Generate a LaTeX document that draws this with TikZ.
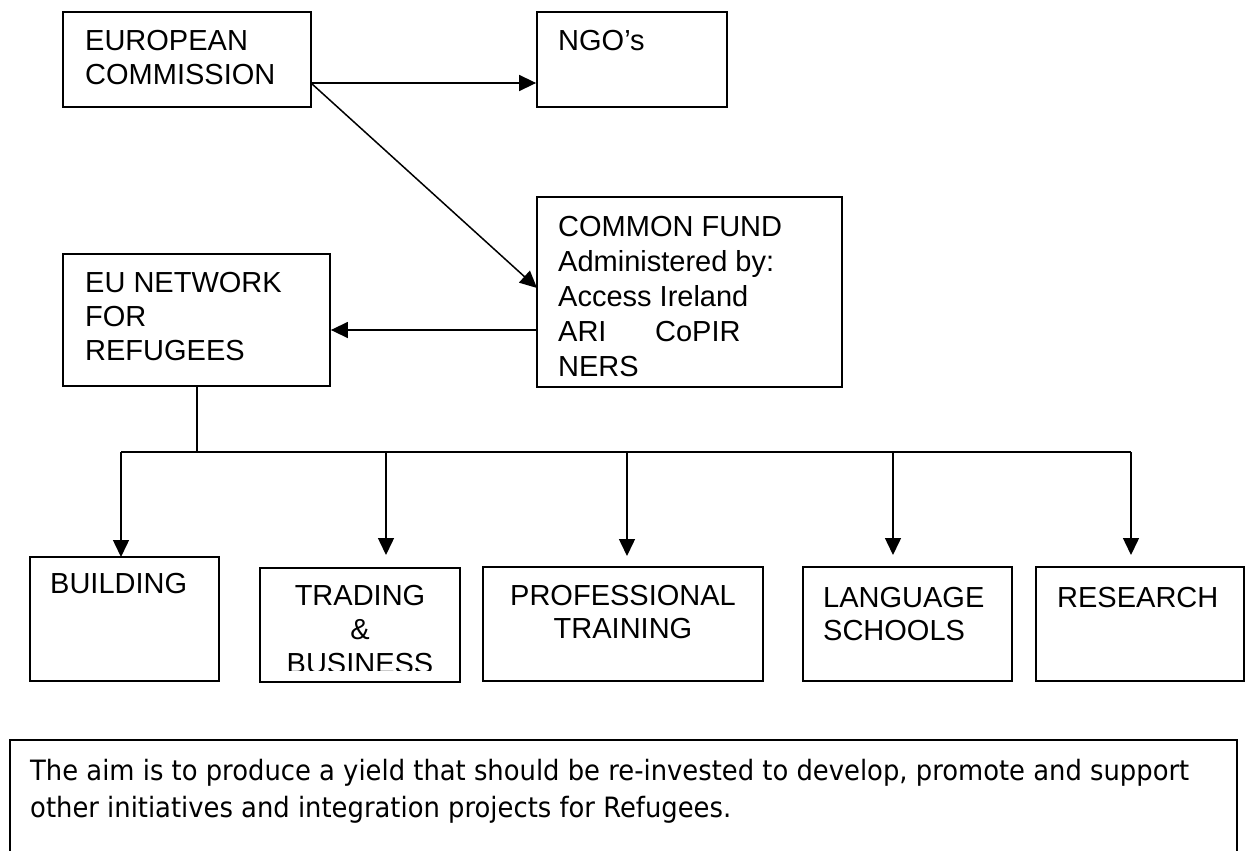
\documentclass[tikz,border=0pt]{standalone}
\usepackage{fontspec}
\setmainfont{Liberation Sans}
\newfontfamily\notefont{DejaVu Sans}
\usetikzlibrary{arrows.meta}
\newcommand\notelineone{The aim is to produce a yield that should be re-invested to develop, promote and support}
\newcommand\notelinetwo{other initiatives and integration projects for Refugees.}
\newlength\notelinewd
\settowidth\notelinewd{\notefont\fontsize{28}{37}\selectfont\notelineone}
\pgfmathsetmacro\notesx{1159/\notelinewd}
\begin{document}
\begin{tikzpicture}[x=1pt,y=-1pt,
  box/.style={draw, line width=1.8pt, inner sep=0pt},
  lbl/.style={inner sep=0pt, font=\fontsize{29}{34}\selectfont, align=left, anchor=north west},
  clbl/.style={inner sep=0pt, font=\fontsize{29}{34}\selectfont, align=center, anchor=north},
  arr/.style={line width=1.5pt, -{Triangle[length=17pt,width=16pt]}},
  wire/.style={line width=1.5pt}]
\useasboundingbox (0,0) rectangle (1248,851);

% top row
\node[box, minimum width=248pt, minimum height=95pt] (ec) at (187,59.5) {};
\node[lbl] (ectext) at (85,30) {EUROPEAN\\COMMISSION};
\node[box, minimum width=190pt, minimum height=95pt] (ngo) at (632,59.5) {};
\node[lbl] (ngotext) at (558,30) {NGO’s};

% fund and network
\node[box, minimum width=305pt, minimum height=190pt] (cf) at (689.5,292) {};
\node[lbl, font=\fontsize{29}{35}\selectfont] (cftext) at (558,216)
  {COMMON FUND\\Administered by:\\Access Ireland\\\makebox[97pt][l]{ARI}CoPIR\\NERS};
\node[box, minimum width=267pt, minimum height=132pt] (eu) at (196.5,320) {};
\node[lbl] (eutext) at (85,272) {EU NETWORK\\FOR\\REFUGEES};

% bottom row of activities
\node[box, minimum width=189pt, minimum height=124pt] (bld) at (124.5,619) {};
\node[lbl] (bldtext) at (50,573) {BUILDING};
\node[box, minimum width=200pt, minimum height=114pt] (trd) at (360,625) {};
\begin{scope}
  \clip (261,569) rectangle (459,670);
  \node[clbl] (trdtext) at (360,585) {TRADING\\\&\\BUSINESS};
\end{scope}
\node[box, minimum width=280pt, minimum height=114pt] (prof) at (623,624) {};
\node[clbl, font=\fontsize{29}{33}\selectfont] (proftext) at (623,585) {PROFESSIONAL\\TRAINING};
\node[box, minimum width=209pt, minimum height=114pt] (lang) at (907.5,624) {};
\node[lbl, font=\fontsize{29}{33}\selectfont] (langtext) at (823,587) {LANGUAGE\\SCHOOLS};
\node[box, minimum width=208pt, minimum height=114pt] (res) at (1140,624) {};
\node[lbl] (restext) at (1057,587) {RESEARCH};

% connectors
\coordinate (ecout) at (311,83);
\draw[arr] (ecout) -- (ecout -| ngo.west);
\coordinate (cfin) at (537,288);
\draw[arr] (ecout) -- (cfin);
\coordinate (cflink) at (0,330);
\draw[arr] (cf.west |- cflink) -- (eu.east |- cflink);

\coordinate (trunk) at (197,452);
\draw[wire] (eu.south -| trunk) -- (trunk);
\coordinate (busl) at (121,452);
\coordinate (busr) at (1131,452);
\draw[wire] (busl) -- (busr);
\coordinate (tipbld) at (121,557);
\coordinate (tiptrd) at (386,555);
\coordinate (tipprof) at (627,556);
\coordinate (tiplang) at (893,555);
\coordinate (tipres) at (1131,555);
\draw[arr] (busl) -- (tipbld);
\draw[arr] (tiptrd |- busl) -- (tiptrd);
\draw[arr] (tipprof |- busl) -- (tipprof);
\draw[arr] (tiplang |- busl) -- (tiplang);
\draw[arr] (busr) -- (tipres);

% note box at the foot, running off the lower edge
\draw[line width=1.8pt] (10,860) -- (10,740) -- (1237,740) -- (1237,860);
\node[inner sep=0pt, anchor=north west, align=left, font=\notefont\fontsize{28}{37}\selectfont] (note) at (30,759)
  {\scalebox{\notesx}[1]{\notelineone}\\
   \scalebox{\notesx}[1]{\notelinetwo}};
\end{tikzpicture}
\end{document}
